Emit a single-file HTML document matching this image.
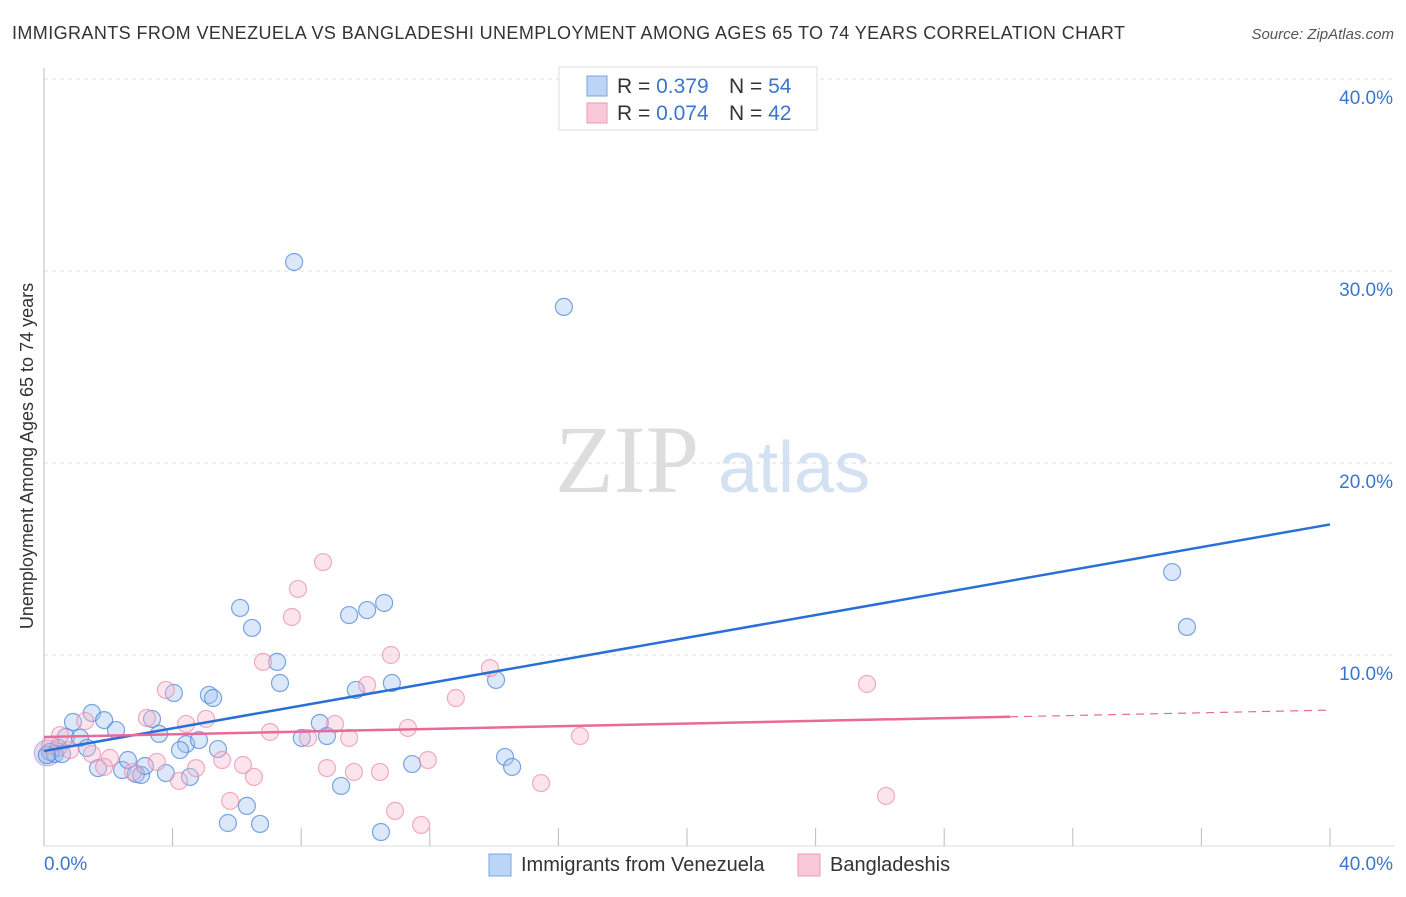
<!DOCTYPE html>
<html><head><meta charset="utf-8"><style>
body{margin:0;background:#fff;font-family:"Liberation Sans",sans-serif}
svg text{font-family:"Liberation Sans",sans-serif}
</style></head><body>
<svg id="chart" width="1406" height="892">
<text x="12" y="39" font-size="18" fill="#333" textLength="1113">IMMIGRANTS FROM VENEZUELA VS BANGLADESHI UNEMPLOYMENT AMONG AGES 65 TO 74 YEARS CORRELATION CHART</text>
<text x="1394" y="39" font-size="15" fill="#555" font-style="italic" text-anchor="end">Source: ZipAtlas.com</text>
<text x="33" y="456" font-size="18" fill="#333" text-anchor="middle" transform="rotate(-90 33 456)">Unemployment Among Ages 65 to 74 years</text>
<text x="555" y="492" font-size="96" fill="#ddd" style="font-family:'Liberation Serif',serif">ZIP</text>
<text x="718" y="492" font-size="72" fill="#d3e1f3">atlas</text>
<g id="grid"></g><g id="pts"></g><g id="lines"></g>
<rect x="559" y="67" width="258" height="63" fill="#fff" stroke="#ddd"/>
<rect x="587" y="76" width="20" height="20" fill="#bcd4f6" stroke="#7aa6e0"/>
<rect x="587" y="103" width="20" height="20" fill="#f9c8d8" stroke="#eb9ab6"/>
<text x="617" y="93" font-size="21" fill="#333">R = <tspan fill="#3a76cf">0.379</tspan><tspan x="729">N = </tspan><tspan fill="#3a76cf">54</tspan></text>
<text x="617" y="120" font-size="21" fill="#333">R = <tspan fill="#3a76cf">0.074</tspan><tspan x="729">N = </tspan><tspan fill="#3a76cf">42</tspan></text>
<text x="44" y="870" font-size="19" fill="#3a76cf">0.0%</text>
<text x="1393" y="870" font-size="19" fill="#3a76cf" text-anchor="end">40.0%</text>
<rect x="489" y="854" width="22" height="22" fill="#bcd4f6" stroke="#7aa6e0"/>
<text x="521" y="871" font-size="20" fill="#333">Immigrants from Venezuela</text>
<rect x="798" y="854" width="22" height="22" fill="#f9c8d8" stroke="#eb9ab6"/>
<text x="830" y="871" font-size="20" fill="#333">Bangladeshis</text>
</svg>
<script>
const yTicks=[10,20,30,40];
const yTickLabels=["10.0%","20.0%","30.0%","40.0%"];
const xTicks=[0,4,8,12,16,20,24,28,32,36,40];
const blueX=[7.78,16.17,35.09,35.55,6.10,6.47,9.49,10.05,10.58,7.25,7.34,9.70,10.82,14.06,4.04,5.13,5.26,1.49,0.90,1.87,3.36,2.24,3.58,0.68,1.12,8.58,8.02,8.80,4.42,4.82,4.23,5.41,0.44,0.19,0.34,0.56,1.68,2.43,2.61,2.86,3.02,3.79,4.54,3.14,14.34,14.56,11.45,6.31,9.24,5.72,6.72,10.48,1.34,0.09];
const blueY=[30.47,28.13,14.32,11.46,12.45,11.41,12.08,12.34,12.71,9.64,8.54,8.18,8.54,8.70,8.02,7.92,7.76,6.98,6.51,6.61,6.67,6.09,5.89,5.73,5.68,6.46,5.68,5.78,5.36,5.57,5.05,5.10,5.16,4.95,4.84,4.84,4.11,4.01,4.53,3.80,3.75,3.85,3.65,4.22,4.69,4.17,4.32,2.14,3.18,1.25,1.20,0.78,5.16,4.79];
const pinkX=[8.68,7.90,7.71,10.79,6.81,13.87,25.60,3.79,10.05,12.81,5.04,3.20,1.28,9.05,4.42,7.03,8.21,9.49,11.32,16.67,0.50,0.81,1.49,2.05,1.87,3.51,5.54,4.73,6.19,6.53,4.20,2.77,8.80,9.64,10.45,11.94,15.46,5.79,10.92,11.73,26.19,0.19];
const pinkY=[14.84,13.44,11.98,10.0,9.64,9.32,8.49,8.18,8.44,7.76,6.67,6.72,6.56,6.41,6.41,5.99,5.68,5.68,6.20,5.78,5.83,5.05,4.84,4.64,4.17,4.43,4.53,4.11,4.27,3.65,3.44,3.91,4.11,3.91,3.91,4.53,3.33,2.40,1.88,1.15,2.66,5.31];
const blueTrend=[5.0,16.8];
const pinkTrend=[5.73,7.13];
const pinkSolidEnd=30.05;
const X=v=>44+v*32.15, Y=v=>847-v*19.2;
const NS="http://www.w3.org/2000/svg";
function mk(t,a,p){const e=document.createElementNS(NS,t);for(const k in a)e.setAttribute(k,a[k]);p.appendChild(e);return e;}
const grid=document.getElementById('grid');
yTicks.forEach((t,i)=>{
 const l=mk('line',{x1:44,x2:1394,y1:Y(t),y2:Y(t),stroke:'#ddd','stroke-dasharray':'4,4'},grid);
 
 
 const tx=mk('text',{x:1393,y:Y(t)+25,'font-size':19,fill:'#3a76cf','text-anchor':'end'},grid);
 tx.textContent=yTickLabels[i];
 
 
});
const ax=mk('line',{x1:44,x2:44,y1:68,y2:846,stroke:'#bbb'},grid);


const bx=mk('line',{x1:44,x2:1394,y1:846,y2:846,stroke:'#ddd'},grid);


xTicks.forEach(t=>{
 const l=mk('line',{x1:X(t),x2:X(t),y1:828,y2:846,stroke:'#bbb'},grid);
 
 
});
const pts=document.getElementById('pts');
const big1=mk('circle',{cx:X(0.1),cy:Y(4.9),r:13,fill:'rgba(190,170,220,0.45)',stroke:'rgba(150,140,210,0.6)'},pts);


blueX.forEach((x,i)=>{
 const c=mk('circle',{cx:X(x),cy:Y(blueY[i]),r:8.5,fill:'rgba(160,195,240,0.38)',stroke:'rgba(70,130,215,0.7)','stroke-width':1.2},pts);
 
 
});
pinkX.forEach((x,i)=>{
 const c=mk('circle',{cx:X(x),cy:Y(pinkY[i]),r:8.5,fill:'rgba(248,185,205,0.38)',stroke:'rgba(235,130,165,0.65)','stroke-width':1.2},pts);
 
 
});
const lines=document.getElementById('lines');
const bl=mk('line',{x1:X(0),y1:Y(blueTrend[0]),x2:X(40),y2:Y(blueTrend[1]),stroke:'#2a6fd6','stroke-width':2.5},lines);


const pm=pinkTrend[0]+(pinkTrend[1]-pinkTrend[0])*pinkSolidEnd/40;
const pl=mk('line',{x1:X(0),y1:Y(pinkTrend[0]),x2:X(pinkSolidEnd),y2:Y(pm),stroke:'#e8699a','stroke-width':2.5},lines);


const pd=mk('line',{x1:X(pinkSolidEnd),y1:Y(pm),x2:X(40),y2:Y(pinkTrend[1]),stroke:'#e8699a','stroke-width':1.2,'stroke-dasharray':'8,6'},lines);


</script>
</body></html>
